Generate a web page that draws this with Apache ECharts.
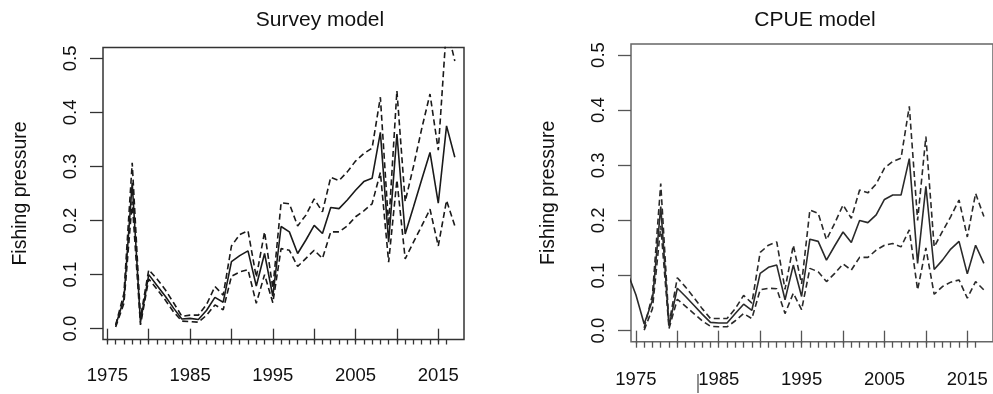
<!DOCTYPE html>
<html>
<head>
<meta charset="utf-8">
<script src="https://cdn.jsdelivr.net/npm/echarts@6/dist/echarts.min.js"></script>
<style>
  html, body { margin: 0; padding: 0; background: #fff; }
  #chart { width: 993px; height: 394px; }
</style>
</head>
<body>
<div id="chart"></div>
<script>
// Fishing pressure estimates with confidence bounds, two model fits.
const surveyYears = [1976,1977,1978,1979,1980,1981,1982,1983,1984,1985,1986,1987,1988,1989,1990,1991,1992,1993,1994,1995,1996,1997,1998,1999,2000,2001,2002,2003,2004,2005,2006,2007,2008,2009,2010,2011,2012,2013,2014,2015,2016,2017];
const surveyEst = [0.006,0.055,0.270,0.012,0.100,0.080,0.060,0.038,0.018,0.019,0.017,0.034,0.058,0.049,0.124,0.135,0.144,0.079,0.139,0.060,0.189,0.179,0.139,0.164,0.191,0.176,0.224,0.222,0.238,0.256,0.272,0.278,0.363,0.160,0.360,0.175,0.225,0.276,0.326,0.232,0.375,0.317];
const surveyUpper = [0.007,0.065,0.307,0.020,0.109,0.092,0.072,0.048,0.023,0.025,0.025,0.045,0.078,0.062,0.153,0.174,0.181,0.095,0.179,0.075,0.233,0.231,0.190,0.210,0.240,0.216,0.280,0.274,0.290,0.310,0.324,0.334,0.428,0.190,0.440,0.235,0.300,0.370,0.434,0.330,0.560,0.495];
const surveyLower = [0.003,0.047,0.235,0.007,0.092,0.073,0.053,0.031,0.014,0.013,0.012,0.025,0.044,0.035,0.097,0.105,0.109,0.047,0.100,0.048,0.148,0.145,0.115,0.130,0.145,0.130,0.179,0.179,0.190,0.207,0.218,0.231,0.289,0.123,0.275,0.129,0.160,0.190,0.221,0.153,0.237,0.190];

const cpueEstYears = [1974,1975,1976,1977,1978,1979,1980,1981,1982,1983,1984,1985,1986,1987,1988,1989,1990,1991,1992,1993,1994,1995,1996,1997,1998,1999,2000,2001,2002,2003,2004,2005,2006,2007,2008,2009,2010,2011,2012,2013,2014,2015,2016,2017];
const cpueEst = [0.105,0.065,0.012,0.055,0.225,0.008,0.077,0.062,0.046,0.030,0.015,0.014,0.014,0.031,0.048,0.037,0.104,0.115,0.119,0.056,0.119,0.062,0.166,0.162,0.128,0.154,0.179,0.160,0.200,0.196,0.210,0.238,0.246,0.246,0.312,0.122,0.262,0.111,0.128,0.148,0.162,0.103,0.155,0.122];
const cpueBoundYears = [1976,1977,1978,1979,1980,1981,1982,1983,1984,1985,1986,1987,1988,1989,1990,1991,1992,1993,1994,1995,1996,1997,1998,1999,2000,2001,2002,2003,2004,2005,2006,2007,2008,2009,2010,2011,2012,2013,2014,2015,2016,2017];
const cpueUpper = [0.005,0.065,0.267,0.012,0.096,0.079,0.060,0.040,0.022,0.022,0.022,0.040,0.064,0.050,0.142,0.155,0.161,0.075,0.155,0.085,0.219,0.213,0.165,0.195,0.228,0.204,0.255,0.250,0.266,0.295,0.307,0.313,0.407,0.200,0.352,0.152,0.180,0.207,0.237,0.170,0.249,0.207];
const cpueLower = [0.001,0.040,0.190,0.004,0.057,0.044,0.031,0.018,0.008,0.007,0.007,0.018,0.031,0.022,0.074,0.077,0.076,0.031,0.068,0.038,0.113,0.107,0.089,0.104,0.121,0.110,0.133,0.133,0.146,0.155,0.158,0.152,0.183,0.074,0.150,0.066,0.080,0.088,0.092,0.059,0.089,0.074];

const yTicks = [0, 0.1, 0.2, 0.3, 0.4, 0.5];
const xMajorTicks = [1975,1980,1985,1990,1995,2000,2005,2010,2015];
const xMinorTicks = [1975,1976,1977,1978,1979,1980,1981,1982,1983,1984,1985,1986,1987,1988,1989,1990,1991,1992,1993,1994,1995,1996,1997,1998,1999,2000,2001,2002,2003,2004,2005,2006,2007,2008,2009,2010,2011,2012,2013,2014,2015,2016];
const xLabels = [1975,1985,1995,2005,2015];

const FONT = "'Liberation Sans', Arial, Helvetica, sans-serif";
const pairs = (xs, ys) => xs.map((x, i) => [x, ys[i]]);

function lineSeries(idx, xs, ys, dashed, color) {
  return {
    type: 'line', xAxisIndex: idx * 2, yAxisIndex: idx,
    data: pairs(xs, ys), symbol: 'none', clip: true, silent: true,
    lineStyle: { color: color, width: 1.6, type: dashed ? [6, 3.5] : 'solid' },
    z: dashed ? 2 : 3
  };
}

function xAxesFor(gridIndex, min, max, tickColor, minorLen, labelMargin) {
  return [
    {
      type: 'value', gridIndex, min, max, position: 'bottom',
      axisLine: { show: false }, splitLine: { show: false },
      axisTick: { show: true, length: 13, customValues: xMajorTicks, lineStyle: { color: tickColor, width: 1.3 } },
      axisLabel: { show: true, customValues: xLabels, margin: labelMargin, color: '#111', fontFamily: FONT, fontSize: 18.5, formatter: v => String(v) }
    },
    {
      type: 'value', gridIndex, min, max, position: 'bottom',
      axisLine: { show: false }, splitLine: { show: false },
      axisTick: { show: true, length: minorLen, customValues: xMinorTicks, lineStyle: { color: tickColor, width: 1.3 } },
      axisLabel: { show: false }
    }
  ];
}

function yAxisFor(gridIndex, tickColor) {
  return {
    type: 'value', gridIndex, min: -0.02, max: 0.52,
    axisLine: { show: false }, splitLine: { show: false },
    axisTick: { show: true, length: 13, customValues: yTicks, lineStyle: { color: tickColor, width: 1.3 } },
    axisLabel: { show: true, customValues: yTicks, rotate: 90, margin: 23, color: '#111', fontFamily: FONT, fontSize: 18.5, formatter: v => v.toFixed(1) },
    name: 'Fishing pressure', nameLocation: 'middle', nameRotate: 90, nameGap: 72,
    nameTextStyle: { color: '#111', fontFamily: FONT, fontSize: 19.5 }
  };
}

const chart = echarts.init(document.getElementById('chart'), null, { renderer: 'canvas' });
chart.setOption({
  animation: false,
  backgroundColor: '#ffffff',
  grid: [
    { left: 103, top: 47.5, width: 361, height: 292, show: true, borderColor: '#333', borderWidth: 1.5, backgroundColor: 'transparent' },
    { left: 631, top: 44, width: 367.5, height: 297.7, show: true, borderColor: '#666', borderWidth: 1.5, backgroundColor: 'transparent' }
  ],
  xAxis: [
    ...xAxesFor(0, 1974.47, 2018.11, '#333', 5, 27),
    ...xAxesFor(1, 1974.41, 2018.1, '#555', 6, 29)
  ],
  yAxis: [yAxisFor(0, '#333'), yAxisFor(1, '#555')],
  series: [
    lineSeries(0, surveyYears, surveyUpper, true, '#1a1a1a'),
    lineSeries(0, surveyYears, surveyLower, true, '#1a1a1a'),
    lineSeries(0, surveyYears, surveyEst, false, '#1a1a1a'),
    lineSeries(1, cpueBoundYears, cpueUpper, true, '#2a2a2a'),
    lineSeries(1, cpueBoundYears, cpueLower, true, '#2a2a2a'),
    lineSeries(1, cpueEstYears, cpueEst, false, '#2a2a2a')
  ],
  graphic: [
    { type: 'text', x: 320, y: 20, style: { text: 'Survey model', fill: '#111', font: '21px ' + FONT, textAlign: 'center', textVerticalAlign: 'middle' } },
    { type: 'text', x: 815, y: 20, style: { text: 'CPUE model', fill: '#111', font: '21px ' + FONT, textAlign: 'center', textVerticalAlign: 'middle' } },
    { type: 'line', shape: { x1: 698, y1: 374, x2: 698, y2: 393 }, style: { stroke: '#444', lineWidth: 1.2 } }
  ]
});
</script>
</body>
</html>
